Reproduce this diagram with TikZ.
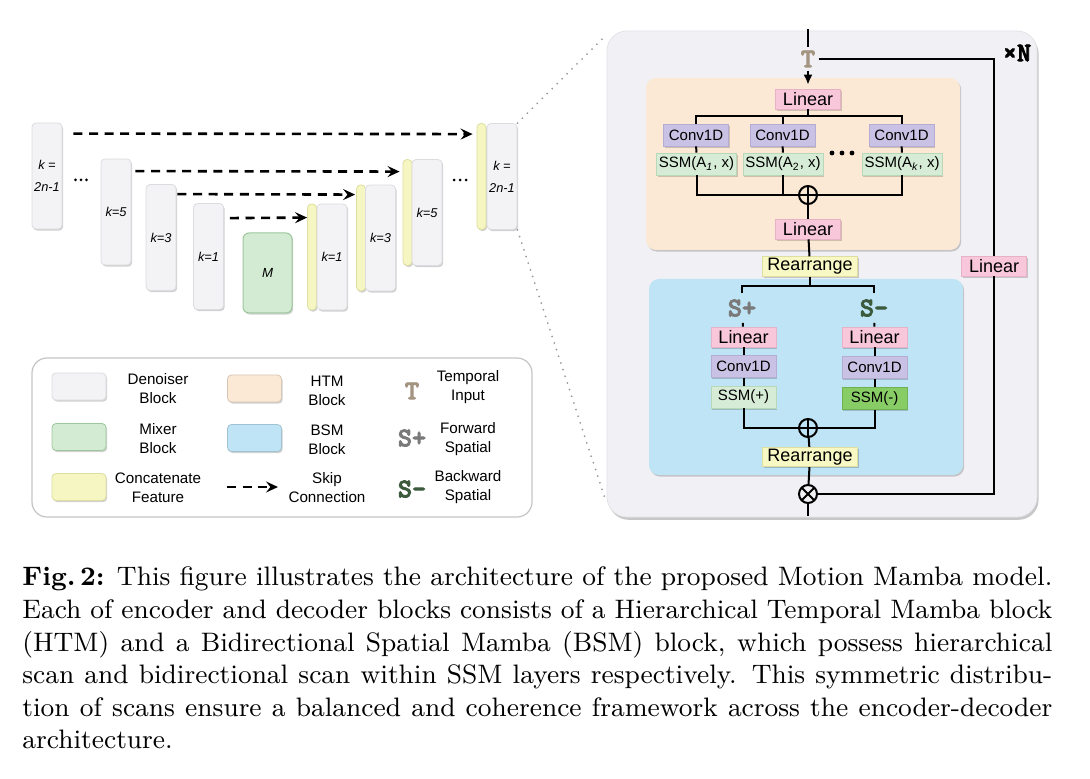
\documentclass[tikz,border=0pt]{standalone}
\usepackage{fontspec}
\newfontfamily\sansf{Liberation Sans}
\newfontfamily\capf{lmroman9-regular.otf}[BoldFont=lmroman9-bold.otf]
\newfontfamily\ttbf{lmmonolt10-bold.otf}[FakeBold=3]
\usetikzlibrary{shadows,calc,arrows.meta}
\definecolor{denfill}{HTML}{F3F3F5}
\definecolor{dendraw}{HTML}{DCDCE0}
\definecolor{mixfill}{HTML}{D3EBD3}
\definecolor{mixdraw}{HTML}{9CC79C}
\definecolor{catfill}{HTML}{F6F6C2}
\definecolor{catdraw}{HTML}{DEDEA0}
\definecolor{htmfill}{HTML}{FCE9D5}
\definecolor{bsmfill}{HTML}{BEE4F5}
\definecolor{panfill}{HTML}{F1F1F5}
\definecolor{pandraw}{HTML}{E2E2E8}
\definecolor{pinkf}{HTML}{F8C7D9}
\definecolor{pinkd}{HTML}{E8B2C6}
\definecolor{lavf}{HTML}{C9C2E4}
\definecolor{lavd}{HTML}{B4ACD2}
\definecolor{ssmf}{HTML}{D6ECD6}
\definecolor{ssmd}{HTML}{B8D8B8}
\definecolor{ssmm}{HTML}{88CC66}
\definecolor{ssmmd}{HTML}{6FB050}
\definecolor{rearf}{HTML}{F8F8C4}
\definecolor{reard}{HTML}{DEDEA0}
\definecolor{tcol}{HTML}{A39582}
\definecolor{spcol}{HTML}{7A7A7A}
\definecolor{smcol}{HTML}{3C5A3C}
\definecolor{legdraw}{HTML}{C4C4C4}
\begin{document}
\begin{tikzpicture}[x=0.5pt,y=-0.5pt,
  shd/.style={drop shadow={shadow xshift=0.6pt,shadow yshift=-0.8pt,opacity=0.18,fill=black}},
  blk/.style={shd,draw=dendraw,fill=denfill,line width=0.4pt,rounded corners=2pt,
    minimum width=15pt,minimum height=53pt,inner sep=0pt,align=center,
    font=\sansf\itshape\fontsize{6.4}{11}\selectfont},
  catbar/.style={shd,draw=catdraw,fill=catfill,line width=0.4pt,rounded corners=2pt,
    minimum width=4.5pt,minimum height=53pt,inner sep=0pt},
  mixblk/.style={shd,draw=mixdraw,fill=mixfill,line width=0.5pt,rounded corners=3pt,
    minimum width=24.5pt,minimum height=40pt,inner sep=0pt,
    font=\sansf\itshape\fontsize{6.6}{8}\selectfont},
  ldot/.style={circle,fill=black,inner sep=0pt,minimum size=1.5pt},
  hdot/.style={circle,fill=black,inner sep=0pt,minimum size=2.4pt},
  skiparrow/.style={line width=1.3pt,dash pattern=on 4.5pt off 3.3pt,
    -{Stealth[length=6pt,width=5.5pt,inset=2.2pt]}},
  zoomline/.style={draw=gray!80,line width=1pt,line cap=round,dash pattern=on 0pt off 3.5pt},
  legbox/.style={draw=legdraw,line width=0.6pt,rounded corners=7.5pt,
    minimum width=250pt,minimum height=79.5pt,inner sep=0pt},
  swatch/.style={shd,line width=0.4pt,rounded corners=2pt,minimum width=27pt,
    minimum height=13.5pt,inner sep=0pt},
  legtext/.style={align=center,inner sep=0pt,font=\sansf\fontsize{7.6}{9.5}\selectfont},
  symb/.style={inner sep=1pt,font=\ttbf\fontsize{13.5}{13.5}\selectfont},
  panelbox/.style={drop shadow={shadow xshift=0.8pt,shadow yshift=-1.4pt,opacity=0.22,fill=black},
    fill=panfill,draw=pandraw,line width=0.4pt,rounded corners=10pt,
    minimum width=215pt,minimum height=243pt,inner sep=0pt},
  htmbox/.style={shd,fill=htmfill,rounded corners=5pt,minimum width=157pt,minimum height=86pt,inner sep=0pt},
  bsmbox/.style={shd,fill=bsmfill,rounded corners=5pt,minimum width=157pt,minimum height=98pt,inner sep=0pt},
  linbox/.style={shd,fill=pinkf,draw=pinkd,line width=0.3pt,minimum width=32.5pt,minimum height=10pt,
    inner sep=0pt,font=\sansf\fontsize{9}{10}\selectfont},
  reabox/.style={shd,fill=rearf,draw=reard,line width=0.3pt,minimum width=47.5pt,minimum height=9.8pt,
    inner sep=0pt,font=\sansf\fontsize{9}{10}\selectfont},
  convbox/.style={shd,fill=lavf,draw=lavd,line width=0.3pt,minimum width=32.5pt,minimum height=11pt,
    inner sep=0pt,font=\sansf\fontsize{7.5}{9}\selectfont},
  ssmbox/.style={shd,fill=ssmf,draw=ssmd,line width=0.3pt,minimum width=40pt,minimum height=11pt,
    inner sep=0pt,font=\sansf\fontsize{7.5}{9}\selectfont},
  conn/.style={line width=1pt,draw=black},
  opplus/.style={circle,draw,line width=1pt,minimum size=9pt,inner sep=0pt,
    path picture={\draw[line width=1pt] (path picture bounding box.north) -- (path picture bounding box.south)
      (path picture bounding box.west) -- (path picture bounding box.east);}},
  optimes/.style={circle,draw,line width=1pt,minimum size=9pt,inner sep=0pt,
    path picture={\draw[line width=1pt] (path picture bounding box.north west) -- (path picture bounding box.south east)
      (path picture bounding box.south west) -- (path picture bounding box.north east);}}
]
\useasboundingbox (0,0) rectangle (1090,779);

% ---------------- right panel background ----------------
\node[panelbox] (panel) at (822,274) {};
\node[htmbox] (htm) at (803,164) {};
\node[bsmbox] (bsm) at (806,377) {};

% ---------------- left U-Net ----------------
\node[blk] (e4) at (47,176) {k =\\2n-1};
\node[blk] (e3) at (116,212) {k=5};
\node[blk] (e2) at (161,237.5) {k=3};
\node[blk] (e1) at (208.5,256.5) {k=1};
\node[mixblk] (M) at (267.5,273) {M};
\node[catbar] (d1y) at (312,257) {};
\node[blk] (d1) at (332,257) {k=1};
\node[catbar] (d2y) at (361,238) {};
\node[blk] (d2) at (380.5,238) {k=3};
\node[catbar] (d3y) at (407.5,212.5) {};
\node[blk] (d3) at (427,212.5) {k=5};
\node[catbar] (d4y) at (481.5,176.5) {};
\node[blk] (d4) at (502,176.5) {k =\\2n-1};

\node[ldot] (ld1) at (75.5,180) {};
\node[ldot] (ld2) at (81,180) {};
\node[ldot] (ld3) at (86.5,180) {};
\node[ldot] (rd1) at (454,180) {};
\node[ldot] (rd2) at (460,180) {};
\node[ldot] (rd3) at (466,180) {};

\draw[skiparrow] ($(e4.north east)+(11,11)$) -- ($(d4y.north west)+(-4,11)$);
\draw[skiparrow] ($(e3.north east)+(4,12.5)$) -- ($(d3y.north west)+(-3,12.5)$);
\draw[skiparrow] ($(e2.north east)+(1,10)$) -- ($(d2y.north west)+(-1,10)$);
\draw[skiparrow] ($(e1.north east)+(6,15)$) -- ($(d1y.north west)+(0,14)$);

\draw[zoomline] (d4.north east) -- ($(panel.north west)+(-2,6)$);
\draw[zoomline] (d4.south east) -- ($(panel.south west)+(-2,-20)$);

% ---------------- legend ----------------
\node[legbox] (leg) at (282,437.5) {};
\node[swatch,fill=denfill,draw=dendraw] (sw1) at (79,386.5) {};
\node[swatch,fill=mixfill,draw=mixdraw] (sw2) at (79,437) {};
\node[swatch,fill=catfill,draw=catdraw] (sw3) at (79,487) {};
\node[swatch,fill=htmfill,draw=htmfill!85!black] (sw4) at (254.5,388.5) {};
\node[swatch,fill=bsmfill,draw=bsmfill!85!black] (sw5) at (254.5,438) {};
\coordinate (ls1) at (227,487);
\coordinate (ls2) at (278,487);
\draw[skiparrow] (ls1) -- (ls2);
\node[legtext] (lt1) at (158,388.5) {Denoiser\\Block};
\node[legtext] (lt2) at (158,438.5) {Mixer\\Block};
\node[legtext] (lt3) at (158,488) {Concatenate\\Feature};
\node[legtext] (lt4) at (327,391) {HTM\\Block};
\node[legtext] (lt5) at (327,439.5) {BSM\\Block};
\node[legtext] (lt6) at (327,487.5) {Skip\\Connection};
\node[symb,text=tcol] (lT) at (412,391) {T};
\node[symb,text=spcol] (lSp) at (412,438) {S+};
\node[symb,text=smcol] (lSm) at (412,489) {S-};
\node[legtext] (lt7) at (468,387.5) {Temporal\\Input};
\node[legtext] (lt8) at (468,439) {Forward\\Spatial};
\node[legtext] (lt9) at (468,487.5) {Backward\\Spatial};

% ---------------- right panel content ----------------
\coordinate (top) at (808,29);
\node[symb,text=tcol,inner sep=1.5pt] (T) at (808,59) {T};
\node[symb,anchor=center] (xN) at (1017,53) {×N};

\node[linbox] (lin1) at (808,99) {Linear};
\node[convbox] (c1) at (696,135) {Conv1D};
\node[convbox] (c2) at (782.5,135) {Conv1D};
\node[convbox] (c3) at (901.5,135) {Conv1D};
\node[ssmbox] (s1) at (696.5,164) {SSM(A\textsubscript{\textit{1}}, x)};
\node[ssmbox] (s2) at (783,164) {SSM(A\textsubscript{2}, x)};
\node[ssmbox] (s3) at (902,164) {SSM(A\textsubscript{\textit{k}}, x)};
\node[hdot] (hd1) at (832,153) {};
\node[hdot] (hd2) at (842,153) {};
\node[hdot] (hd3) at (852,153) {};
\node[opplus] (op1) at (808,195) {};
\node[linbox] (lin2) at (808,229) {Linear};
\node[reabox] (rea1) at (810,266.5) {Rearrange};
\node[linbox] (linR) at (994,266) {Linear};

\node[symb,text=spcol,inner xsep=1pt,inner ysep=3pt] (sp) at (742,308) {S+};
\node[symb,text=smcol,inner xsep=1pt,inner ysep=3pt] (sm) at (874,308) {S-};
\node[linbox] (linL) at (743.5,337) {Linear};
\node[linbox] (linRt) at (874.5,337) {Linear};
\node[convbox] (cvL) at (743.5,366.5) {Conv1D};
\node[convbox] (cvR) at (874.5,367.5) {Conv1D};
\node[convbox,fill=ssmf,draw=ssmd] (ssmP) at (743.5,397) {SSM(+)};
\node[convbox,fill=ssmm,draw=ssmmd] (ssmM) at (874.5,398.5) {SSM(-)};
\node[opplus] (op2) at (808,428) {};
\node[reabox] (rea2) at (810,457) {Rearrange};
\node[optimes] (ot) at (808,494) {};
\coordinate (bot) at (808,516);

% connectors
\draw[conn] (top) -- (T);
\draw[conn,-{Latex[length=5pt,width=4.5pt]},shorten >=2pt] (T) -- (lin1);
\draw[conn] (T.east) -| (linR.north);
\draw[conn] (linR.south) |- (ot.east);

\coordinate (bt) at (808,116);
\draw[conn] (lin1.south) -- (bt);
\draw[conn] (c1.north) |- (bt);
\draw[conn] (c3.north) |- (bt);
\draw[conn] (c2.north) -- (c2.north |- bt);
\draw[conn] (c1) -- (s1);
\draw[conn] (c2) -- (s2);
\draw[conn] (c3) -- (s3);
\draw[conn] (s1.south) |- (op1.west);
\draw[conn] (s3.south) |- (op1.east);
\draw[conn] (s2.south) -- (s2.south |- op1.center);
\draw[conn] (op1) -- (lin2);
\draw[conn] (lin2) -- (rea1);

\coordinate (bs) at (810,286);
\draw[conn] (rea1) -- (bs);
\draw[conn] (sp.north) |- (bs);
\draw[conn] (sm.north) |- (bs);
\draw[conn] (sp) -- (linL);
\draw[conn] (sm) -- (linRt);
\draw[conn] (linL) -- (cvL);
\draw[conn] (linRt) -- (cvR);
\draw[conn] (cvL) -- (ssmP);
\draw[conn] (cvR) -- (ssmM);
\draw[conn] (ssmP.south) |- (op2.west);
\draw[conn] (ssmM.south) |- (op2.east);
\draw[conn] (op2) -- (rea2);
\draw[conn] (rea2) -- (ot);
\draw[conn] (ot) -- (bot);

% ---------------- caption ----------------
\node[anchor=north west,inner sep=0pt,text width=515pt,align=justify,
  font=\capf\fontsize{13.35}{16.32}\selectfont] (cap) at (22,566.5)
{\noindent\textbf{Fig.\,2:} This figure illustrates the architecture of the proposed Motion Mamba model.\linebreak
Each of encoder and decoder blocks consists of a Hierarchical Temporal Mamba block\linebreak
(HTM) and a Bidirectional Spatial Mamba (BSM) block, which possess hierarchical\linebreak
scan and bidirectional scan within SSM layers respectively. This symmetric distribu-\linebreak
tion of scans ensure a balanced and coherence framework across the encoder-decoder\linebreak
architecture.};
\end{tikzpicture}
\end{document}
